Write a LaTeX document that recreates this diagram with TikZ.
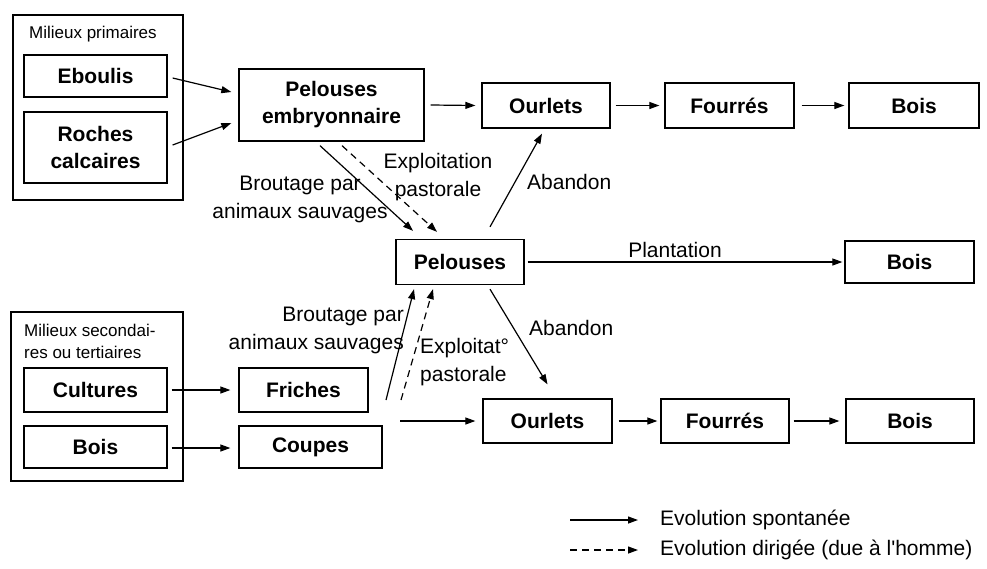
\documentclass[tikz,border=0pt]{standalone}
\usepackage{fontspec}
\setmainfont{Liberation Sans}
\newfontfamily\rawfont{Liberation Sans}
\usetikzlibrary{arrows.meta,calc}
\begin{document}
\begin{tikzpicture}[x=1pt,y=-1pt,
 box/.style={draw,line width=1.3pt,inner sep=0pt,font=\fontsize{21}{27}\selectfont\bfseries,align=center},
 frame/.style={draw,line width=1.3pt,inner sep=0pt},
 lbl/.style={font=\fontsize{21}{28}\selectfont,inner sep=0pt,align=center},
 smalllbl/.style={font=\fontsize{17}{22}\selectfont,inner sep=0pt,align=left,anchor=west},
 arr/.style={line width=1.2pt,-{Triangle[length=10pt,width=7pt]}},
 darr/.style={arr,dash pattern=on 7pt off 5pt}]
\fill[white] (0,0) rectangle (987,568);
\useasboundingbox (0,0) rectangle (987,568);

% frames
\node[frame,minimum width=170pt,minimum height=185pt] (prim) at (98,107.5) {};
\node[smalllbl] (primlbl) at (29,34) {Milieux primaires};
\node[frame,minimum width=172pt,minimum height=169pt] (sec) at (97,396.5) {};
\node[smalllbl] (seclbl) at (24,341) {Milieux secondai-\\res ou tertiaires};

% boxes
\node[box,minimum width=143pt,minimum height=42pt] (eb) at (95.5,76) {Eboulis};
\node[box,minimum width=143pt,minimum height=71pt] (rc) at (95.5,147.5) {Roches\\calcaires};
\node[box,minimum width=185pt,minimum height=72pt] (pe) at (331.5,105) {Pelouses\\embryonnaire};
\node[box,minimum width=128pt,minimum height=45pt] (o1) at (546,105.5) {Ourlets};
\node[box,minimum width=129pt,minimum height=45pt] (f1) at (729.5,105.5) {Fourrés};
\node[box,minimum width=130pt,minimum height=45pt] (b1) at (914,105.5) {Bois};
\node[box,minimum width=128pt,minimum height=45pt] (pel) at (460,262) {Pelouses};
\node[box,minimum width=129pt,minimum height=42pt] (b2) at (909.5,262) {Bois};
\node[box,minimum width=143pt,minimum height=44pt] (cu) at (95.5,390) {Cultures};
\node[box,minimum width=143pt,minimum height=42pt] (bo) at (95.5,447) {Bois};
\node[box,minimum width=129pt,minimum height=44pt] (fr) at (303.5,390) {Friches};
\node[box,minimum width=143pt,minimum height=42pt] (co) at (310.5,447) {Coupes};
\node[box,minimum width=129pt,minimum height=44pt] (o2) at (547.5,421) {Ourlets};
\node[box,minimum width=128pt,minimum height=44pt] (f2) at (725,421) {Fourrés};
\node[box,minimum width=128pt,minimum height=44pt] (b3) at (910,421) {Bois};

% arrows top
\draw[arr] ($(eb.east)+(5,2)$) -- ($(pe.west)+(-7,-13)$);
\draw[arr] ($(rc.east)+(5,-2.5)$) -- ($(pe.west)+(-7,18)$);
\draw[arr] ($(pe.east)+(6,0)$) -- ($(o1.west)+(-6,0)$);
\draw[arr] ($(o1.east)+(5,0)$) -- ($(f1.west)+(-5,0)$);
\draw[arr] ($(f1.east)+(7,0)$) -- ($(b1.west)+(-4,0)$);

% pe -> pel
\draw[arr] ($(pe.south)+(-11.5,4)$) -- ($(pel.north)+(-47,-8)$);
\draw[darr] ($(pe.south)+(10.5,4)$) -- ($(pel.north)+(-23,-7)$);
\node[lbl] (brout1) at (300,199) {Broutage par\\animaux sauvages};
\node[lbl] (expl1) at (438,177) {Exploitation\\pastorale};

% pel -> others
\draw[arr] ($(pel.north)+(30,-12)$) -- ($(o1.south)+(-4,5)$);
\node[lbl,anchor=west] (ab1) at (527,182) {Abandon};
\draw[arr] ($(pel.east)+(3,0)$) -- ($(b2.west)+(-2,0)$);
\node[lbl] (plant) at (675,250) {Plantation};
\draw[arr] ($(pel.south)+(30,4)$) -- ($(o2.north)+(0,-14)$);
\node[lbl,anchor=west] (ab2) at (529,328) {Abandon};

% bottom
\draw[arr] ($(cu.east)+(4,0)$) -- ($(fr.west)+(-8,0)$);
\draw[arr] ($(bo.east)+(4,1)$) -- ($(co.west)+(-8,1)$);
\coordinate (up1) at (386,400);
\coordinate (up2) at (401,400);
\coordinate (hz) at (400,421);
\draw[arr] (up1) -- ($(pel.south)+(-46,4)$);
\draw[darr] (up2) -- ($(pel.south)+(-27,4)$);
\node[lbl,align=right,anchor=east] (brout2) at (404,330) {Broutage par\\animaux sauvages};
\node[lbl,align=left,anchor=west] (expl2) at (420,362) {Exploitat°\\pastorale};
\draw[arr] (hz) -- ($(o2.west)+(-7,0)$);
\draw[arr] ($(o2.east)+(6,0)$) -- ($(f2.west)+(-3,0)$);
\draw[arr] ($(f2.east)+(4,0)$) -- ($(b3.west)+(-6,0)$);

% legend
\coordinate (l1a) at (570,520);
\coordinate (l1b) at (638,520);
\coordinate (l2a) at (570,550);
\coordinate (l2b) at (638,550);
\draw[arr] (l1a) -- (l1b);
\draw[darr] (l2a) -- (l2b);
\node[lbl,anchor=west] (leg1) at (660,520) {Evolution spontanée};
\node[lbl,anchor=west] (leg2) at (660,550) {\rawfont Evolution dirigée (due à l'homme)};
\end{tikzpicture}
\end{document}
